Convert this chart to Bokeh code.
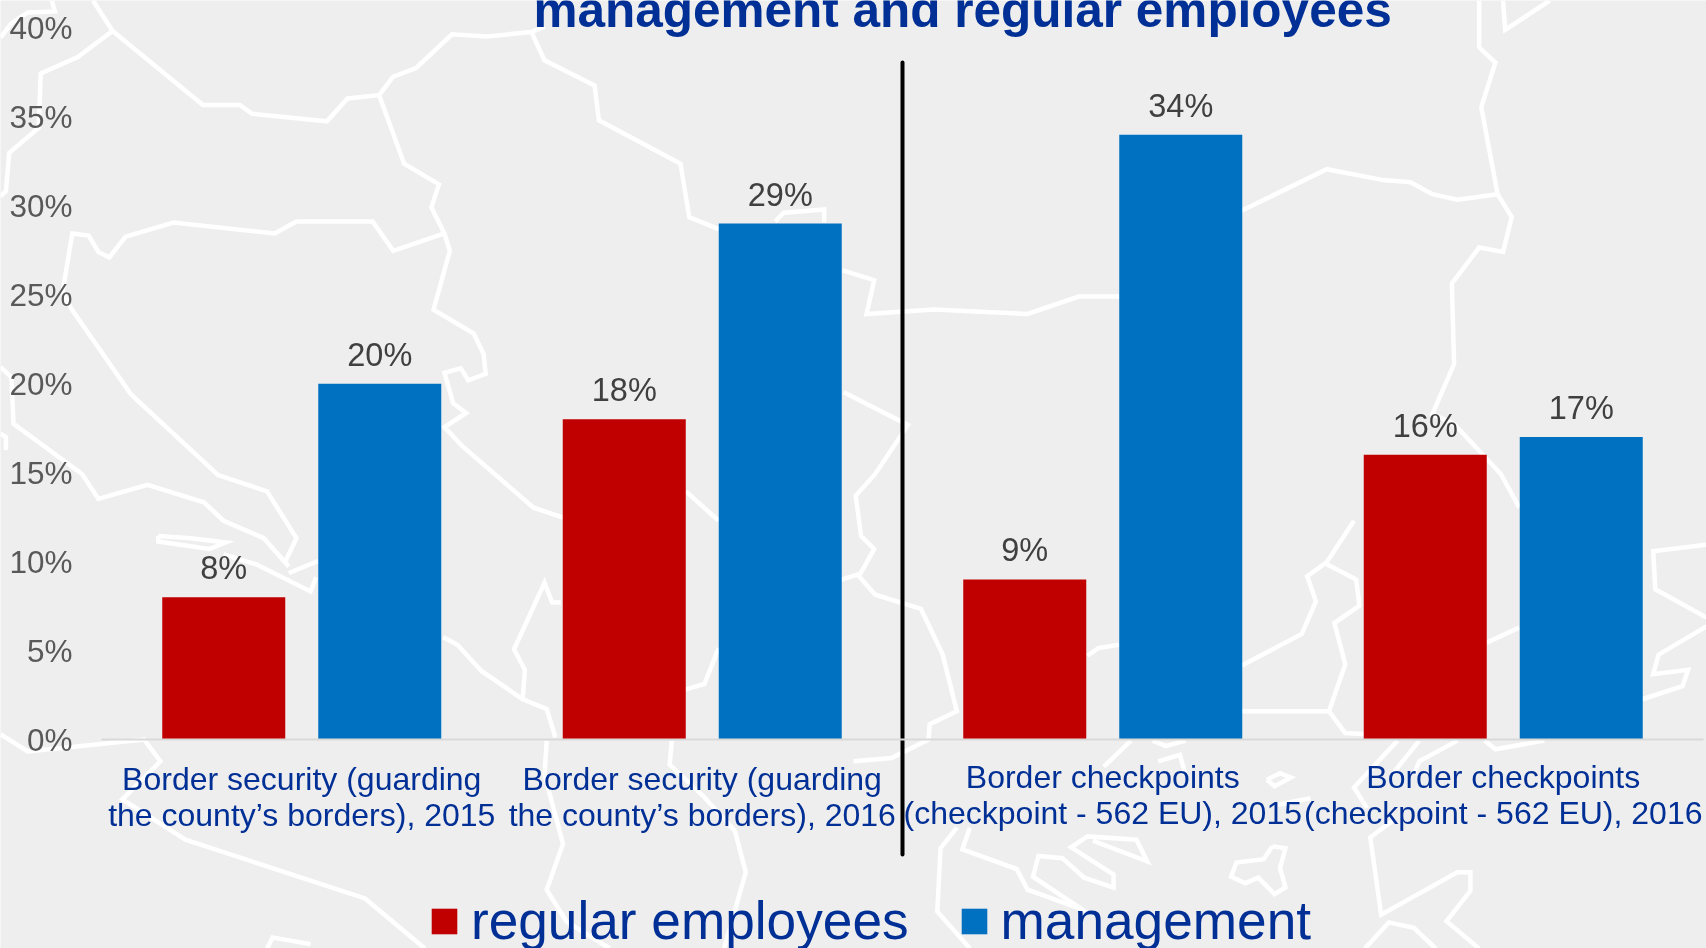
from bokeh.plotting import figure
from bokeh.models import Range1d, LinearAxis, FixedTicker, Legend, LegendItem, ColumnDataSource
from bokeh.core.properties import value
from bokeh.embed import file_html
from bokeh.resources import INLINE

W, H = 1706, 948

categories = [
    "Border security (guarding\nthe county\u2019s borders), 2015",
    "Border security (guarding\nthe county\u2019s borders), 2016",
    "Border checkpoints\n(checkpoint - 562 EU), 2015",
    "Border checkpoints\n(checkpoint - 562 EU), 2016",
]
regular_employees = [8, 18, 9, 16]
management = [20, 29, 34, 17]
y_ticks = [0, 5, 10, 15, 20, 25, 30, 35, 40]
title_text = "management and regular employees"

RED, BLUE, NAVY, BG = "#C00000", "#0070C0", "#002F96", "#EEEEEE"
FONT = "Liberation Sans"

# decorative background map, traced in the coordinates of the 1568x871 picture
map_paths = [
    [(85,0),(103,28),(186,96),(220,96),(231,104),(300,111),(319,90),(348,87),(361,70),(382,62),(415,31),(447,33),(488,29),(500,24)],
    [(103,28),(71,52),(37,67),(35,117),(8,140),(5,175),(0,180)],
    [(47,0),(50,10),(25,11),(10,21),(0,34)],
    [(348,87),(371,150),(403,169),(396,190),(408,214),(413,230),(398,284),(435,306),(444,325),(446,343),(430,349),(423,338),(408,342),(416,370),(428,379),(408,392),(425,410),(490,466),(517,475)],
    [(408,214),(361,230),(342,203),(272,203),(252,214),(159,204),(115,217),(100,236),(90,231),(81,216),(66,214),(57,268),(65,283),(120,362),(200,436),(245,451),(272,494),(262,515)],
    [(488,29),(500,55),(546,78),(550,110),(625,150),(633,199),(660,210)],
    [(712,203),(720,195),(757,192),(757,204)],
    [(774,248),(803,257),(796,288),(858,284),(944,288),(991,272),(1028,272)],
    [(775,360),(834,390),(804,435),(786,455),(791,492),(803,504),(789,529),(804,546),(846,559),(866,601),(879,653),(854,665),(853,679),(819,696),(784,699)],
    [(773,532),(789,527)],
    [(0,674),(25,690),(132,679),(147,699),(112,734),(170,771),(335,825),(390,871)],
    [(0,337),(10,346),(12,389),(75,435),(90,458),(135,445),(187,461),(205,478),(242,494),(265,520)],
    [(0,398),(5,401),(5,413)],
    [(145,492),(175,494),(207,498),(192,504),(145,497),(145,492)],
    [(205,509),(235,518),(285,543),(290,530)],
    [(265,526),(292,515)],
    [(407,585),(420,592),(442,616),(480,642),(502,651),(510,677)],
    [(502,680),(500,711),(517,775),(502,817),(520,846),(560,871)],
    [(515,553),(507,553),(500,535),(472,596),(482,615),(480,641)],
    [(630,451),(660,478)],
    [(630,633),(647,628),(660,595)],
    [(617,680),(615,702),(645,730),(675,763),(685,801),(665,871)],
    [(245,871),(250,861),(285,867)],
    [(1359,0),(1359,43),(1374,57),(1361,98),(1376,178),(1389,199),(1381,231),(1359,227),(1334,260),(1336,334),(1316,380),(1336,389),(1379,435),(1396,466)],
    [(1141,193),(1219,155),(1271,165),(1296,167),(1316,178),(1339,183),(1376,178)],
    [(1381,0),(1383,27),(1424,0)],
    [(1244,478),(1219,516),(1201,529),(1209,552),(1196,582),(1141,611)],
    [(1219,518),(1246,532),(1249,556),(1226,572),(1236,610),(1221,653),(1141,653)],
    [(1221,653),(1236,673),(1253,674)],
    [(1366,590),(1396,576)],
    [(1568,500),(1519,506),(1521,541),(1568,567)],
    [(1568,575),(1524,601),(1519,619),(1551,615),(1546,630),(1509,642)],
    [(1028,592),(1009,595),(999,602)],
    [(1039,680),(1014,704)],
    [(1059,680),(1071,685),(1089,680)],
    [(1064,699),(1084,693),(1089,711)],
    [(1164,716),(1176,710),(1186,714),(1171,722),(1164,716)],
    [(1284,680),(1244,723),(1256,742)],
    [(1304,680),(1279,711)],
    [(1339,680),(1304,699),(1299,711)],
    [(1364,680),(1374,688),(1419,680)],
    [(879,760),(864,779),(861,837),(891,871)],
    [(891,760),(884,780),(934,798),(944,817),(994,835),(949,805),(954,786),(976,788),(996,806),(1023,815),(1023,803),(984,778),(999,768),(1044,771),(1054,791),(1004,772)],
    [(1169,777),(1181,779),(1176,797),(1181,815),(1171,821),(1156,806),(1144,811),(1131,805),(1136,792),(1161,789),(1169,777)],
    [(1279,754),(1259,769),(1269,840),(1339,801),(1351,801),(1351,818),(1329,846),(1359,871)],
    [(1254,871),(1276,847),(1299,852),(1319,871)],
    [(1174,739),(1204,733)],
]

PX_PER_CAT = 400.5
PX_PER_PCT = 17.79
X0, Y0 = 101.0, 739.0

p = figure(
    width=W, height=H, output_backend="svg", toolbar_location=None,
    x_axis_type=None, y_axis_type=None,
    x_range=Range1d(-X0 / PX_PER_CAT, (W - X0) / PX_PER_CAT),
    y_range=Range1d((Y0 - H) / PX_PER_PCT, Y0 / PX_PER_PCT),
    min_border=0, background_fill_color=BG, border_fill_color=BG,
    outline_line_color=None,
)
p.grid.visible = False
p.styles = {"position": "fixed", "left": "0px", "top": "0px"}

p.extra_x_ranges["map"] = Range1d(0, 1568)
p.extra_y_ranges["map"] = Range1d(871, 0)
p.multi_line(
    [[c[0] for c in path] for path in map_paths],
    [[c[1] for c in path] for path in map_paths],
    line_color="white", line_width=4.5, line_join="miter",
    x_range_name="map", y_range_name="map",
)

OFFSET = 78.0 / PX_PER_CAT
BAR_W = 123.0 / PX_PER_CAT
centers = [i + 0.5 for i in range(len(categories))]

red_src = ColumnDataSource(dict(
    x=[c - OFFSET for c in centers], top=regular_employees,
    label=[f"{v}%" for v in regular_employees]))
blue_src = ColumnDataSource(dict(
    x=[c + OFFSET for c in centers], top=management,
    label=[f"{v}%" for v in management]))

red_r = p.vbar(x="x", top="top", bottom=0, width=BAR_W, source=red_src,
               fill_color=RED, line_color=None)
blue_r = p.vbar(x="x", top="top", bottom=0, width=BAR_W, source=blue_src,
                fill_color=BLUE, line_color=None)

for src in (red_src, blue_src):
    p.text(x="x", y="top", text="label", source=src, text_align="center",
           text_baseline="middle", y_offset=-29,
           text_font=value(FONT), text_font_size="32.5px", text_color="#404040")

# y axis
yax = LinearAxis(fixed_location=0, ticker=FixedTicker(ticks=y_ticks),
                 major_label_overrides={t: f"{t}%" for t in y_ticks},
                 axis_line_color=None, major_tick_line_color=None,
                 minor_tick_line_color=None, major_label_standoff=23,
                 major_label_text_font=FONT, major_label_text_font_size="31.5px",
                 major_label_text_color="#595959")
p.add_layout(yax, "left")

# x axes: the two pairs of labels sit at slightly different heights
def x_axis(ticks, labels, standoff, line):
    ax = LinearAxis(fixed_location=0, ticker=FixedTicker(ticks=ticks),
                    major_label_overrides=dict(zip(ticks, labels)),
                    bounds=(0, 4),
                    major_tick_line_color=None, minor_tick_line_color=None,
                    major_label_standoff=standoff,
                    major_label_text_font=FONT, major_label_text_font_size="32px",
                    major_label_text_color=NAVY, major_label_text_align="center",
                    major_label_text_line_height=1.01,
                    axis_line_color="#D9D9D9" if line else None, axis_line_width=2)
    p.add_layout(ax, "below")

x_axis(centers[:2], categories[:2], 15, True)
x_axis(centers[2:], categories[2:], 13, False)

# separator
p.line([2.0, 2.0], [38.05, -6.46], line_color="black", line_width=4, line_cap="round")

# clipped title
p.text(x=[2.15], y=[(Y0 - 9) / PX_PER_PCT], text=[title_text], text_align="center",
       text_baseline="middle",
       text_font=value(FONT), text_font_style="bold", text_font_size="49.5px", text_color=NAVY)

legend = Legend(
    items=[LegendItem(label="regular employees", renderers=[red_r]),
           LegendItem(label="management", renderers=[blue_r])],
    orientation="horizontal", location=(428, -3),
    background_fill_alpha=0, border_line_color=None, padding=0, margin=0,
    glyph_width=32, glyph_height=32, label_standoff=11, spacing=49,
    label_text_font=FONT, label_text_font_size="53.2px", label_text_color=NAVY,
)
p.add_layout(legend, "center")

open("out.html", "w").write(file_html(p, INLINE))
